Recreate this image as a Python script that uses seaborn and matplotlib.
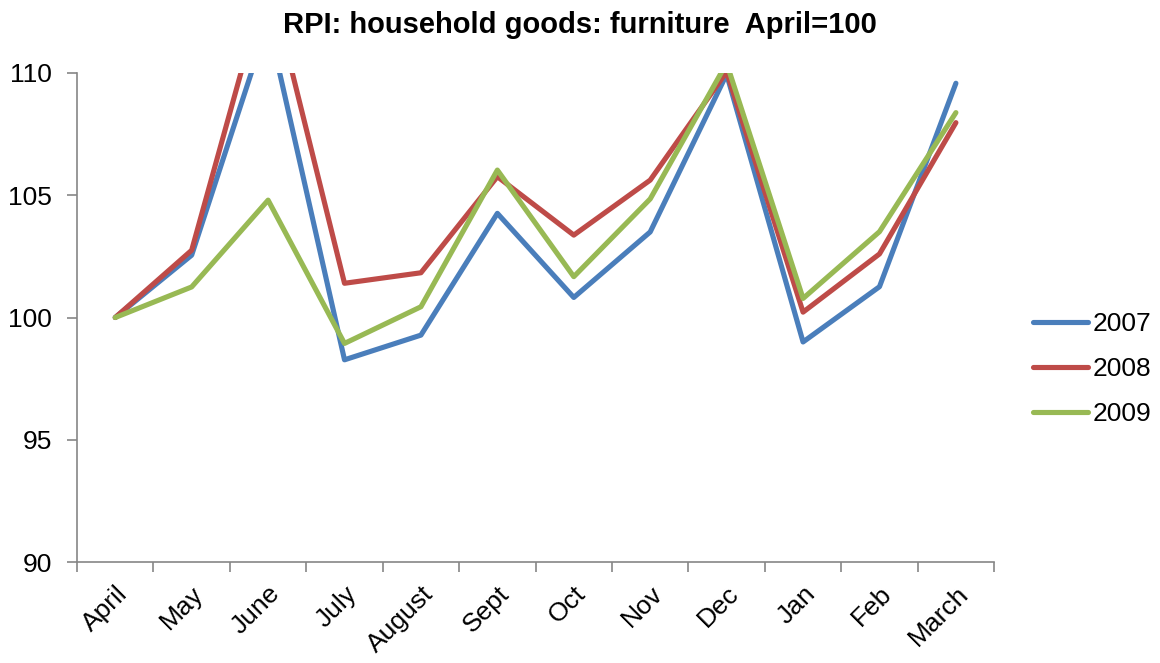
import matplotlib
matplotlib.use("Agg")
import matplotlib.pyplot as plt
import seaborn as sns
import pandas as pd

months = ["April", "May", "June", "July", "August", "Sept", "Oct", "Nov",
          "Dec", "Jan", "Feb", "March"]
years = ["2007", "2008", "2009"]
v2007 = [100.0, 102.55, 112.1, 98.27, 99.28, 104.26, 100.82, 103.5, 109.95, 99.0, 101.26, 109.58]
v2008 = [100.0, 102.75, 114.0, 101.4, 101.83, 105.76, 103.37, 105.62, 110.05, 100.22, 102.6, 107.97]
v2009 = [100.0, 101.25, 104.8, 98.94, 100.44, 106.03, 101.67, 104.85, 110.4, 100.78, 103.51, 108.38]
colors = ["#4a7ebb", "#be4b48", "#98b954"]
title = "RPI: household goods: furniture  April=100"

sns.set_style("white")
plt.rcParams["font.family"] = ["Liberation Sans", "DejaVu Sans"]
plt.rcParams["text.color"] = "black"
plt.rcParams["xtick.color"] = "black"
plt.rcParams["ytick.color"] = "black"

rows = []
for yr, vals in zip(years, [v2007, v2008, v2009]):
    for i, (m, v) in enumerate(zip(months, vals)):
        rows.append({"idx": i, "month": m, "year": yr, "value": v})
df = pd.DataFrame(rows)

fig = plt.figure(figsize=(11.6, 6.63), dpi=100)
ax = fig.add_axes([0.0664, 0.1523, 0.857 - 0.0664, 0.8899 - 0.1523])

sns.lineplot(data=df, x="idx", y="value", hue="year", palette=colors,
             linewidth=3.7, ax=ax, legend=True)

ax.set_xlim(-0.5, len(months) - 0.5)
ax.set_ylim(90, 110)
ax.set_yticks([90, 95, 100, 105, 110])
ax.set_yticklabels(["90", "95", "100", "105", "110"], fontsize=19)

ax.set_xticks([i - 0.5 for i in range(len(months) + 1)])
ax.set_xticklabels([])
ax.set_xticks(list(range(len(months))), minor=True)
ax.set_xticklabels(months, minor=True, rotation=45, ha="right",
                   rotation_mode="anchor", fontsize=19)
ax.tick_params(axis="x", which="minor", length=0, pad=14)
ax.tick_params(axis="x", which="major", length=7, width=1.2, colors="#868686",
               labelcolor="black", direction="out", bottom=True)
ax.tick_params(axis="y", which="major", length=7, width=1.2, color="#868686",
               labelcolor="black", direction="out", left=True, pad=11)

for s in ["top", "right"]:
    ax.spines[s].set_visible(False)
for s in ["left", "bottom"]:
    ax.spines[s].set_color("#868686")
    ax.spines[s].set_linewidth(1.2)

ax.set_xlabel("")
ax.set_ylabel("")
fig.text(0.5, 0.962, title, ha="center", va="center", fontsize=21,
         fontweight="bold", color="black")

leg = ax.legend(title=None, loc="center left", bbox_to_anchor=(0.8905, 0.4434),
                bbox_transform=fig.transFigure, borderaxespad=0, borderpad=0,
                frameon=False, fontsize=19, handlelength=2.1,
                handletextpad=0.15, labelspacing=0.8)
for h in leg.get_lines():
    h.set_linewidth(3.7)
for t in leg.get_texts():
    t.set_color("black")

fig.savefig("out.png", dpi=100)
